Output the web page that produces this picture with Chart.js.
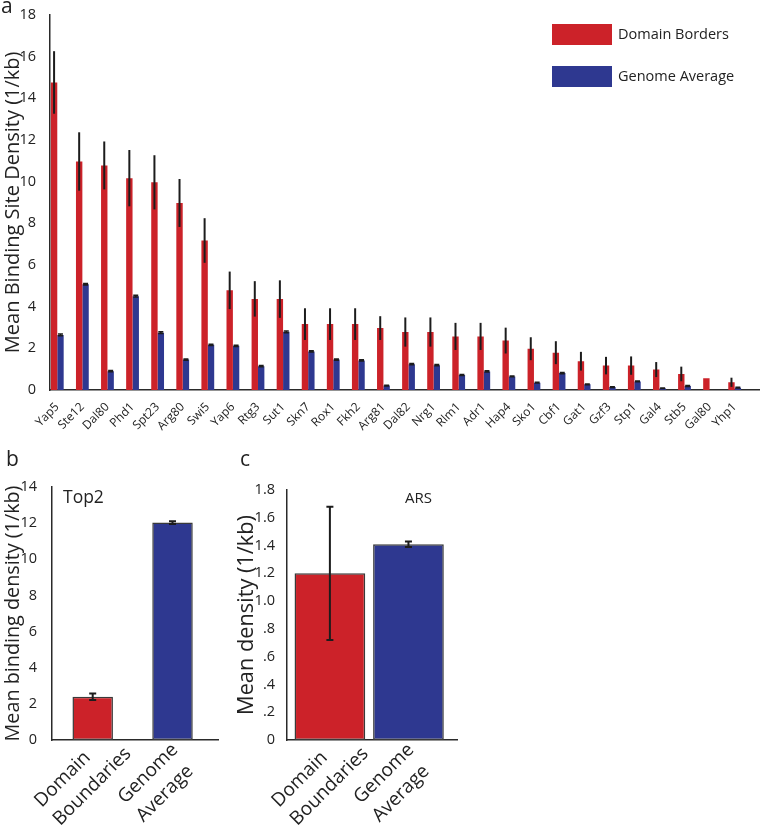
<!DOCTYPE html>
<html><head><meta charset="utf-8">
<script src="https://cdn.jsdelivr.net/npm/chart.js@4.4.1/dist/chart.umd.min.js"></script>
<style>
html,body{margin:0;padding:0;background:#fff;width:762px;height:827px;overflow:hidden;}
canvas{position:absolute;}
</style></head><body>
<canvas id="a" width="762" height="445" style="left:0;top:0"></canvas>
<canvas id="b" width="234" height="382" style="left:0;top:445px"></canvas>
<canvas id="c" width="240" height="382" style="left:234px;top:445px"></canvas>
<script>
const FONT = "'Open Sans', sans-serif";
const categories = ['Yap5','Ste12','Dal80','Phd1','Spt23','Arg80','Swi5','Yap6','Rtg3','Sut1','Skn7','Rox1','Fkh2','Arg81','Dal82','Nrg1','Rlm1','Adr1','Hap4','Sko1','Cbf1','Gat1','Gzf3','Stp1','Gal4','Stb5','Gal80','Yhp1'];
const bordersMean = [14.75,10.96,10.77,10.16,9.96,8.97,7.17,4.78,4.37,4.36,3.16,3.16,3.16,2.97,2.78,2.78,2.57,2.57,2.37,1.98,1.79,1.38,1.17,1.17,0.98,0.77,0.56,0.37];
const bordersErr  = [1.5,1.4,1.15,1.35,1.3,1.15,1.07,0.9,0.85,0.9,0.76,0.76,0.76,0.57,0.7,0.7,0.65,0.65,0.62,0.55,0.55,0.45,0.42,0.44,0.36,0.35,0,0.22];
const genomeMean  = [2.64,5.07,0.9,4.5,2.75,1.46,2.17,2.12,1.14,2.79,1.85,1.46,1.42,0.21,1.24,1.19,0.72,0.89,0.65,0.35,0.81,0.27,0.14,0.41,0.08,0.19,0,0.11];
const genomeErr   = [0.04,0.04,0.03,0.04,0.04,0.03,0.03,0.03,0.03,0.04,0.03,0.03,0.03,0.02,0.03,0.03,0.02,0.03,0.02,0.02,0.03,0.02,0.02,0.02,0.01,0.02,0,0.02];
const seriesNames = ['Domain Borders','Genome Average'];
const barLabels = [['Domain','Boundaries'],['Genome','Average']];
const top2Mean = [2.4, 12.03];
const top2Err  = [0.18, 0.08];
const arsMean  = [1.2, 1.41];
const arsErr   = [0.48, 0.02];

const RED = '#cc2229', BLUE = '#2e3890', AX = '#2a2a2a', TXT = '#222';
Chart.defaults.font.family = FONT;
Chart.defaults.color = TXT;

function fitSize(text, target) {
  const c = document.createElement('canvas').getContext('2d');
  c.font = '100px ' + FONT;
  return 100 * target / c.measureText(text).width;
}

function errorPlugin(sets) {
  return {
    id: 'errbars',
    afterDatasetsDraw(chart) {
      const ctx = chart.ctx, ys = chart.scales.y;
      sets.forEach((s, d) => {
        if (!s) return;
        chart.getDatasetMeta(d).data.forEach((el, i) => {
          const e = s.err[i]; if (!e) return;
          const v = s.mean[i];
          const x = el.x, y1 = ys.getPixelForValue(v + e), y2 = ys.getPixelForValue(v - e);
          ctx.save(); ctx.strokeStyle = '#1c1c1c'; ctx.lineWidth = s.width;
          ctx.beginPath(); ctx.moveTo(x, y1); ctx.lineTo(x, y2);
          if (s.cap) { ctx.moveTo(x - s.cap, y1); ctx.lineTo(x + s.cap, y1); ctx.moveTo(x - s.cap, y2); ctx.lineTo(x + s.cap, y2); }
          ctx.stroke(); ctx.restore();
        });
      });
    }
  };
}
function notesPlugin(items) {
  return {
    id: 'notes',
    afterDraw(chart) {
      const ctx = chart.ctx;
      ctx.save(); ctx.fillStyle = TXT; ctx.textBaseline = 'alphabetic'; ctx.textAlign = 'left';
      items.forEach(t => { ctx.font = t.size + 'px ' + FONT; ctx.fillText(t.text, t.x, t.y); });
      ctx.restore();
    }
  };
}
const legendPlugin = {
  id: 'legendBoxes',
  afterDraw(chart) {
    const ctx = chart.ctx;
    ctx.save(); ctx.textBaseline = 'middle'; ctx.textAlign = 'left'; ctx.font = '14.5px ' + FONT;
    chart.data.datasets.forEach((ds, i) => {
      const top = 24 + i * 42;
      ctx.fillStyle = ds.backgroundColor; ctx.fillRect(552, top, 60, 21);
      ctx.fillStyle = TXT; ctx.fillText(ds.label, 618, top + 11);
    });
    ctx.restore();
  }
};
function xLabelPlugin(labels) {
  return {
    id: 'xlabels',
    afterDraw(chart) {
      const ctx = chart.ctx, xs = chart.scales.x, y0 = chart.chartArea.bottom;
      ctx.save(); ctx.fillStyle = TXT; ctx.font = '19px ' + FONT; ctx.textAlign = 'left'; ctx.textBaseline = 'alphabetic';
      labels.forEach((lines, i) => {
        ctx.save(); ctx.translate(xs.getPixelForValue(i), y0); ctx.rotate(-Math.PI / 4);
        lines.forEach((s, k) => ctx.fillText(s, -84 + i * 5, 12 + k * 26));
        ctx.restore();
      });
      ctx.restore();
    }
  };
}
const axisBorder = {display: true, color: AX, width: 1.5};

// Panel a
const titleA = 'Mean Binding Site Density (1/kb)';
const fA = fitSize(titleA, 302);
new Chart(document.getElementById('a'), {
  type: 'bar',
  data: {datasets: [
    {label: seriesNames[0], data: categories.map((c, i) => ({x: i, y: bordersMean[i]})), backgroundColor: RED},
    {label: seriesNames[1], data: categories.map((c, i) => ({x: i, y: genomeMean[i]})), backgroundColor: BLUE}
  ]},
  options: {
    responsive: false, animation: false,
    layout: {padding: {top: 13, right: 3, left: 0, bottom: 0}},
    datasets: {bar: {categoryPercentage: 0.51, barPercentage: 1}},
    plugins: {legend: {display: false}, tooltip: {enabled: false}},
    scales: {
      x: {type: 'linear', min: -0.29, max: 27.97, offset: false, grid: {display: false}, border: axisBorder,
          ticks: {stepSize: 1, includeBounds: false, autoSkip: false, minRotation: 45, maxRotation: 45, padding: 2,
                  font: {size: 12}, color: TXT, callback: (v) => categories[v] ?? ''},
          afterFit: (s) => { s.height = 445 - 390; }},
      y: {min: 0, max: 18, grid: {display: false}, border: axisBorder,
          ticks: {stepSize: 2, padding: 6, font: {size: 14.5}, color: TXT},
          title: {display: true, text: titleA, font: {size: fA}, color: TXT, padding: {top: 13 - fA * 0.6, bottom: 0}},
          afterFit: (s) => { s.width = 50; }}
    }
  },
  plugins: [
    errorPlugin([{mean: bordersMean, err: bordersErr, width: 2, cap: 0}, {mean: genomeMean, err: genomeErr, width: 1.5, cap: 2.5}]),
    legendPlugin,
    notesPlugin([{text: 'a', x: 1, y: 13, size: 21}])
  ]
});

// Panel b
const titleB = 'Mean binding density (1/kb)';
const fB = fitSize(titleB, 256);
new Chart(document.getElementById('b'), {
  type: 'bar',
  data: {datasets: [{data: top2Mean.map((v, i) => ({x: i, y: v})), backgroundColor: [RED, BLUE], borderColor: '#3a3a3a', borderWidth: 1.5, borderSkipped: false}]},
  options: {
    responsive: false, animation: false,
    layout: {padding: {top: 42, right: 16, left: 0, bottom: 0}},
    datasets: {bar: {categoryPercentage: 1, barPercentage: 0.89}},
    plugins: {legend: {display: false}, tooltip: {enabled: false}},
    scales: {
      x: {type: 'linear', min: -0.51, max: 1.57, offset: false, grid: {display: false}, border: axisBorder,
          ticks: {display: false}, afterFit: (s) => { s.height = 382 - 295; }},
      y: {min: 0, max: 14, grid: {display: false}, border: axisBorder,
          ticks: {stepSize: 2, padding: 7, font: {size: 14.5}, color: TXT},
          title: {display: true, text: titleB, font: {size: fB}, color: TXT, padding: {top: 13.5 - fB * 0.6, bottom: 0}},
          afterFit: (s) => { s.width = 52; }}
    }
  },
  plugins: [
    errorPlugin([{mean: top2Mean, err: top2Err, width: 2, cap: 3.5}]),
    xLabelPlugin(barLabels),
    notesPlugin([{text: 'b', x: 6, y: 21, size: 21}, {text: 'Top2', x: 63, y: 58, size: 17.5}])
  ]
});

// Panel c
const titleC = 'Mean density (1/kb)';
const fC = fitSize(titleC, 200);
new Chart(document.getElementById('c'), {
  type: 'bar',
  data: {datasets: [{data: arsMean.map((v, i) => ({x: i, y: v})), backgroundColor: [RED, BLUE], borderColor: '#3a3a3a', borderWidth: 1.5, borderSkipped: false}]},
  options: {
    responsive: false, animation: false,
    layout: {padding: {top: 45, right: 17, left: 0, bottom: 0}},
    datasets: {bar: {categoryPercentage: 1, barPercentage: 0.9}},
    plugins: {legend: {display: false}, tooltip: {enabled: false}},
    scales: {
      x: {type: 'linear', min: -0.546, max: 1.618, offset: false, grid: {display: false}, border: axisBorder,
          ticks: {display: false}, afterFit: (s) => { s.height = 382 - 295; }},
      y: {min: 0, max: 1.8, grid: {display: false}, border: axisBorder,
          ticks: {stepSize: 0.2, padding: 4, font: {size: 14.5}, color: TXT,
                  callback: (v) => v === 0 ? '0' : (v < 0.99 ? v.toFixed(1).slice(1) : v.toFixed(1))},
          title: {display: true, text: titleC, font: {size: fC}, color: TXT, padding: {top: 13 - fC * 0.6, bottom: 0}},
          afterFit: (s) => { s.width = 53; }}
    }
  },
  plugins: [
    errorPlugin([{mean: arsMean, err: arsErr, width: 2, cap: 3.5}]),
    xLabelPlugin(barLabels),
    notesPlugin([{text: 'c', x: 6, y: 21, size: 21}, {text: 'ARS', x: 171, y: 58, size: 15}])
  ]
});
</script>
</body></html>
